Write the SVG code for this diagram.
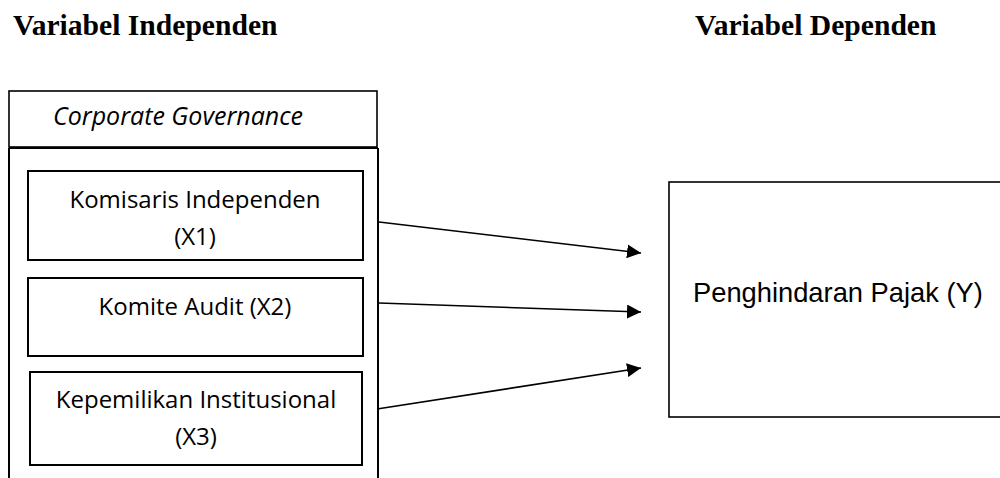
<svg xmlns="http://www.w3.org/2000/svg" width="1000" height="478" viewBox="0 0 1000 478">
<style>
.h{font-family:"Liberation Serif","Times New Roman",serif;font-weight:bold;font-size:29.6px;fill:#000}
.t{font-family:"Open Sans","Noto Sans",sans-serif;font-size:24px;fill:#000;text-anchor:middle}
.box{fill:#fff;stroke:#000;stroke-width:2}
.c{stroke:#000;stroke-width:1.6;fill:none}
.y{font-family:"Liberation Sans",Arial,sans-serif;font-size:27.3px;fill:#000}
</style>
<defs>
<marker id="ah" markerWidth="14" markerHeight="14" refX="14" refY="7" orient="auto" markerUnits="userSpaceOnUse">
<path d="M0,0 L14,7 L0,14 Z" fill="#000"/>
</marker>
</defs>
<rect width="1000" height="478" fill="#fff"/>
<text class="h" x="13" y="35">Variabel Independen</text>
<text class="h" x="695" y="35">Variabel Dependen</text>
<g id="corporate-governance">
<rect x="9" y="91" width="368" height="56" fill="#fff" stroke="#000" stroke-width="1.6"/>
<text x="53" y="125" style="font-family:'Open Sans','Noto Sans',sans-serif;font-style:italic;font-size:25px;fill:#000">Corporate Governance</text>
<path d="M9,148 L9,478 M378,148 L378,478 M9,148 L378,148" stroke="#000" stroke-width="2" fill="none"/>
</g>
<g id="x1">
<rect class="box" x="28" y="171" width="335" height="89"/>
<text class="t" x="195" y="208">Komisaris Independen</text>
<text class="t" x="195" y="245">(X1)</text>
</g>
<g id="x2">
<rect class="box" x="28" y="278" width="335" height="78"/>
<text class="t" x="195" y="315">Komite Audit (X2)</text>
</g>
<g id="x3">
<rect class="box" x="30" y="372" width="332" height="93"/>
<text class="t" x="196" y="408">Kepemilikan Institusional</text>
<text class="t" x="196" y="445">(X3)</text>
</g>
<g id="y">
<rect x="669" y="182" width="340" height="235" fill="#fff" stroke="#000" stroke-width="1.6"/>
<text class="y" x="693" y="302">Penghindaran Pajak (Y)</text>
</g>
<g id="connectors">
<line class="c" x1="379" y1="222" x2="641" y2="253" marker-end="url(#ah)"/>
<line class="c" x1="379" y1="303" x2="641" y2="312" marker-end="url(#ah)"/>
<line class="c" x1="377" y1="409" x2="641" y2="368" marker-end="url(#ah)"/>
</g>
</svg>
